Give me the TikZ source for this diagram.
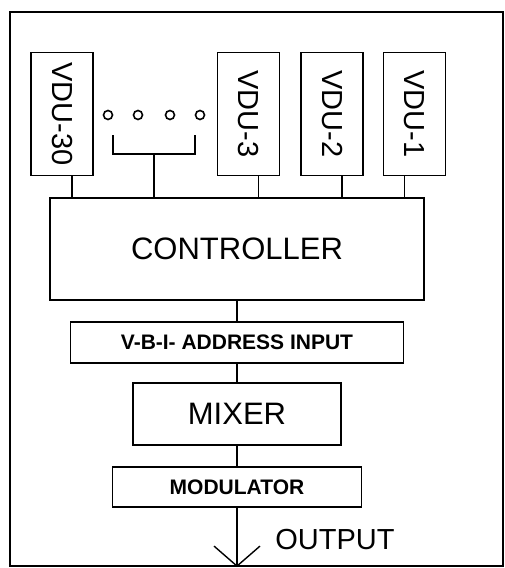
\documentclass[tikz,border=0pt]{standalone}
\usepackage{fontspec}
\setmainfont{Liberation Sans}
\usepackage{graphicx}
\usetikzlibrary{arrows.meta, positioning}
\tikzset{
  unitbox/.style ={rectangle, draw, line width=1.4pt, inner sep=0pt, align=center},
  vdubox/.style  ={unitbox, minimum width=62pt, minimum height=123pt,
                   font=\fontsize{29}{34}\selectfont},
  bigbox/.style  ={unitbox, font=\fontsize{31}{36}\selectfont},
  smallbox/.style={unitbox, font=\fontsize{21}{25}\selectfont\bfseries},
  dot/.style     ={circle, draw, line width=1.6pt, minimum size=9pt, inner sep=0pt},
  link/.style    ={line width=1.4pt},
  outarrow/.style={line width=1.4pt, -{Straight Barb[length=20pt, width=46pt, line width=1.4pt]}},
}
\begin{document}
\begin{tikzpicture}[x=1pt, y=-1pt]
  \useasboundingbox (0,0) rectangle (504,568);
  % outer frame
  \draw[line width=1.2pt] (10,12) rectangle (503,566);

  % terminals
  \node[vdubox] (v30) at (62,114)    {\rotatebox{-90}{VDU-30}};
  \node[vdubox] (v3)  at (248.5,114) {\rotatebox{-90}{VDU-3}};
  \node[vdubox] (v2)  at (332,114)   {\rotatebox{-90}{VDU-2}};
  \node[vdubox] (v1)  at (414.5,114) {\rotatebox{-90}{VDU-1}};
  \foreach \x [count=\i] in {108,138,170,200}
    \node[dot] (d\i) at (\x,115) {};
  \coordinate (brk) at (154,154);

  \node[bigbox, minimum width=374pt, minimum height=102pt] (ctrl) at (237,249) {CONTROLLER};
  \node[smallbox, minimum width=333pt, minimum height=41pt] (vbi) at (237,342.5) {V-B-I- ADDRESS INPUT};
  \node[bigbox, minimum width=208pt, minimum height=62pt] (mix) at (237,414) {MIXER};
  \node[smallbox, minimum width=249pt, minimum height=40pt] (mod) at (237,487) {MODULATOR};
  \node[font=\fontsize{29}{34}\selectfont, inner sep=0pt] (out) at (335,540) {OUTPUT};
  \coordinate (tv) at (237,567);

  % bus into controller
  \draw[link] ([xshift=10pt]v30.south) -- ([xshift=10pt]v30.south |- ctrl.north);
  \draw[link] (113,135) |- (195,154) -- (195,135);
  \draw[link] (brk) -- (brk |- ctrl.north);
  \draw[link] ([xshift=10pt]v3.south) -- ([xshift=10pt]v3.south |- ctrl.north);
  \draw[link] ([xshift=10pt]v2.south) -- ([xshift=10pt]v2.south |- ctrl.north);
  \draw[link] ([xshift=-10pt]v1.south) -- ([xshift=-10pt]v1.south |- ctrl.north);

  \draw[link] (ctrl) -- (vbi);
  \draw[link] (vbi) -- (mix);
  \draw[link] (mix) -- (mod);
  \draw[outarrow] (mod) -- (tv);
\end{tikzpicture}
\end{document}
